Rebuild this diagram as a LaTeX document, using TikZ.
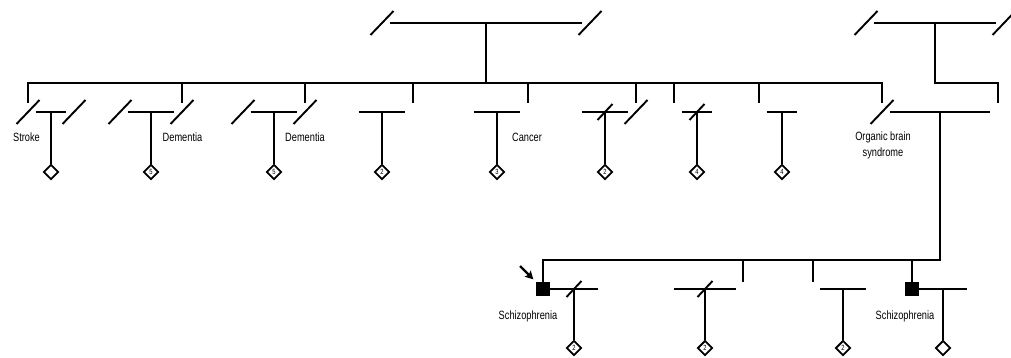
\documentclass[tikz,border=0pt]{standalone}
\usepackage{fontspec}
\setmainfont[FakeStretch=0.77]{Liberation Sans}
\usetikzlibrary{shapes.geometric,arrows.meta,calc}
\begin{document}
\begin{tikzpicture}[x=1pt,y=-1pt,
  lineage/.style={line width=1.9pt},
  person/.style={rectangle,inner sep=0pt,minimum width=15pt,minimum height=18pt},
  member/.style={rectangle,inner sep=0pt,minimum size=14pt},
  affected/.style={rectangle,fill=black,inner sep=0pt,minimum size=14pt},
  kid/.style={diamond,draw,line width=1.9pt,inner sep=0pt,minimum size=15pt,
              font=\fontsize{7.5}{8}\selectfont},
  note/.style={font=\fontsize{12}{16}\selectfont,align=center,inner sep=0pt},
  pointer/.style={line width=2.2pt,-{Stealth[length=8pt,width=8.5pt,inset=1.5pt]},shorten >=3.5pt},
  deceased/.pic={\draw[lineage] (-11.5,12) -- (11.5,-12);},
  parted/.pic={\draw[lineage] (-7.5,8) -- (7.5,-8);}
]
\useasboundingbox (0,0) rectangle (1011,358);

% ---------- generation I ----------
\node[person] (a1) at (382,23) {};  \pic at (a1) {deceased};
\node[person] (a2) at (590,23) {};  \pic at (a2) {deceased};
\node[person] (b1) at (866,23) {};  \pic at (b1) {deceased};
\node[person] (b2) at (1004,23) {}; \pic at (b2) {deceased};
\draw[lineage] (a1.east) -- (a2.west);
\draw[lineage] (b1.east) -- (b2.west);
\coordinate (topL) at ($(a1.east)!.5!(a2.west)$);
\coordinate (topR) at ($(b1.east)!.5!(b2.west)$);

% ---------- generation II ----------
\node[person] (p1) at (28,112) {};   \pic at (p1) {deceased};
\node[person] (s1) at (74,112) {};   \pic at (s1) {deceased};
\node[person] (s2) at (120,112) {};  \pic at (s2) {deceased};
\node[person] (p2) at (182,112) {};  \pic at (p2) {deceased};
\node[person] (s3) at (243,112) {};  \pic at (s3) {deceased};
\node[person] (p3) at (305,112) {};  \pic at (p3) {deceased};
\node[person] (s4) at (351,112) {};
\node[person] (p4) at (413,112) {};
\node[person] (s5) at (466,112) {};
\node[person] (p5) at (528,112) {};
\node[person] (s6) at (574,112) {};
\node[person] (p6) at (636,112) {};  \pic at (p6) {deceased};
\node[person] (p7) at (674,112) {};
\node[person] (s7) at (720,112) {};
\node[person] (p8) at (759,112) {};
\node[person] (s8) at (805,112) {};
\node[person] (p9) at (882,112) {};  \pic at (p9) {deceased};
\node[person] (s9) at (998,112) {};

% sibship of generation II
\draw[lineage] (topL) -- (topL |- 0,83);
\draw[lineage] (p1.north) -- (p1 |- 0,83) -- (p9 |- 0,83) -- (p9.north);
\foreach \n in {p2,p3,p4,p5,p6,p7,p8}
  \draw[lineage] (\n.north) -- (\n |- 0,83);
\draw[lineage] (topR) -- (topR |- 0,83) -- (s9 |- 0,83) -- (s9.north);

% couples of generation II
\draw[lineage] (p1.east) -- (s1.west);
\draw[lineage] (s2.east) -- (p2.west);
\draw[lineage] (s3.east) -- (p3.west);
\draw[lineage] (s4.east) -- (p4.west);
\draw[lineage] (s5.east) -- (p5.west);
\draw[lineage] (s6.east) -- (p6.west);
\draw[lineage] (p7.east) -- (s7.west);
\draw[lineage] (p8.east) -- (s8.west);
\draw[lineage] (p9.east) -- (s9.west);
\coordinate (m1) at ($(p1.east)!.5!(s1.west)$);
\coordinate (m2) at ($(s2.east)!.5!(p2.west)$);
\coordinate (m3) at ($(s3.east)!.5!(p3.west)$);
\coordinate (m4) at ($(s4.east)!.5!(p4.west)$);
\coordinate (m5) at ($(s5.east)!.5!(p5.west)$);
\coordinate (m6) at ($(s6.east)!.5!(p6.west)$);
\coordinate (m7) at ($(p7.east)!.5!(s7.west)$);
\coordinate (m8) at ($(p8.east)!.5!(s8.west)$);
\coordinate (m9) at ($(p9.east)!.5!(s9.west)$);
\pic at (m6) {parted};
\pic at (m7) {parted};

% offspring counts of generation III (paternal cousins)
\node[kid] (d1) at (m1 |- 0,172) {};
\node[kid] (d2) at (m2 |- 0,172) {5};
\node[kid] (d3) at (m3 |- 0,172) {5};
\node[kid] (d4) at (m4 |- 0,172) {2};
\node[kid] (d5) at (m5 |- 0,172) {3};
\node[kid] (d6) at (m6 |- 0,172) {2};
\node[kid] (d7) at (m7 |- 0,172) {4};
\node[kid] (d8) at (m8 |- 0,172) {4};
\foreach \i in {1,...,8}
  \draw[lineage] (m\i) -- (d\i.north);

% diagnoses in generation II
\node[note] (n1) at (26.5,137.5) {Stroke};
\node[note] (n2) at (182.5,137.5) {Dementia};
\node[note] (n3) at (305,137.5) {Dementia};
\node[note] (n4) at (527,137.5) {Cancer};
\node[note] (n5) at (883,145) {Organic brain\\syndrome};

% ---------- generation III ----------
\node[affected] (q1) at (543,289) {};
\node[member]   (t1) at (605,289) {};
\node[member]   (t2) at (667,289) {};
\node[member]   (q2) at (743,289) {};
\node[member]   (q3) at (813,289) {};
\node[member]   (t3) at (873,289) {};
\node[affected] (q4) at (912,289) {};
\node[member]   (t4) at (974,289) {};

\draw[lineage] (m9) -- (m9 |- 0,260) -- (q1 |- 0,260) -- (q1.north);
\foreach \n in {q2,q3,q4}
  \draw[lineage] (\n.north) -- (\n |- 0,260);

\draw[lineage] (q1.east) -- (t1.west);
\draw[lineage] (t2.east) -- (q2.west);
\draw[lineage] (q3.east) -- (t3.west);
\draw[lineage] (q4.east) -- (t4.west);
\coordinate (r1) at ($(q1.east)!.5!(t1.west)$);
\coordinate (r2) at ($(t2.east)!.5!(q2.west)$);
\coordinate (r3) at ($(q3.east)!.5!(t3.west)$);
\coordinate (r4) at ($(q4.east)!.5!(t4.west)$);
\pic at (r1) {parted};
\pic at (r2) {parted};

\node[kid] (e1) at (r1 |- 0,348) {2};
\node[kid] (e2) at (r2 |- 0,348) {2};
\node[kid] (e3) at (r3 |- 0,348) {2};
\node[kid] (e4) at (r4 |- 0,348) {};
\foreach \i in {1,...,4}
  \draw[lineage] (r\i) -- (e\i.north);

\node[note] (n6) at (528,316) {Schizophrenia};
\node[note] (n7) at (905,316) {Schizophrenia};

% proband
\coordinate (ptr) at (520,266);
\draw[pointer] (ptr) -- (q1.north west);
\end{tikzpicture}
\end{document}
